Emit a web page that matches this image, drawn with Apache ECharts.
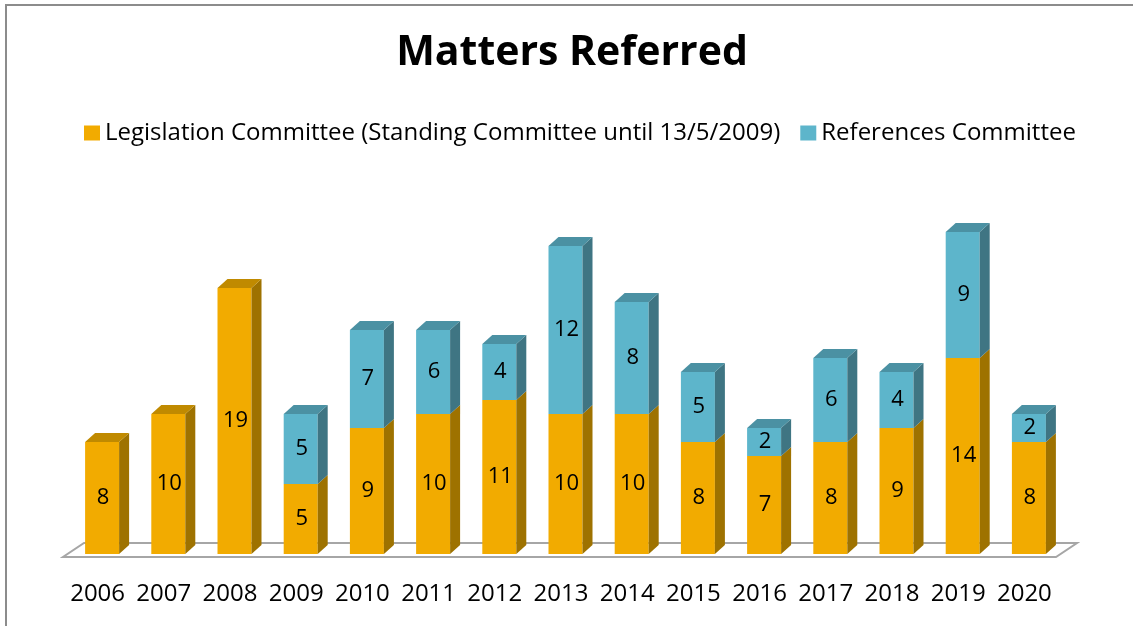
<!DOCTYPE html>
<html>
<head>
<meta charset="utf-8">
<script src="https://cdn.jsdelivr.net/npm/echarts@6/dist/echarts.min.js"></script>
<style>
  html, body { margin: 0; padding: 0; background: #fff; }
  #chart { width: 1133px; height: 626px; }
</style>
</head>
<body>
<div id="chart"></div>
<script>
const years = ['2006', '2007', '2008', '2009', '2010', '2011', '2012', '2013', '2014', '2015', '2016', '2017', '2018', '2019', '2020'];
const legislation = [8, 10, 19, 5, 9, 10, 11, 10, 10, 8, 7, 8, 9, 14, 8];
const references = [0, 0, 0, 5, 7, 6, 4, 12, 8, 5, 2, 6, 4, 9, 2];

const FONT = '"Open Sans", Lato, sans-serif';

const orangeFaces = { front: '#F2AB00', side: '#9E7200', top: '#C08A00' };
const blueFaces = { front: '#5DB5CB', side: '#3F7583', top: '#4B91A3' };

// [category, low, high, isTop]
const legisData = legislation.map((v, i) => [i, 0, v, references[i] === 0 ? 1 : 0]);
const refData = references.map((v, i) => [i, legislation[i], legislation[i] + v, 1]);

// draws a fake 3D box: front face, right side, top
function boxRenderer(faces) {
  return function (params, api) {
    const cat = api.value(0), lo = api.value(1), hi = api.value(2);
    if (hi - lo <= 0) return;
    const pb = api.coord([cat, lo]);
    const pt = api.coord([cat, hi]);
    const bw = 34, dx = 10, dy = 9;
    const x0 = pb[0] - bw / 2, x1 = x0 + bw;
    const yb = pb[1], yt = pt[1];
    const kids = [
      { type: 'rect', shape: { x: x0, y: yt, width: bw, height: yb - yt }, style: { fill: faces.front } },
      { type: 'polygon', shape: { points: [[x1, yb], [x1, yt], [x1 + dx, yt - dy], [x1 + dx, yb - dy]] }, style: { fill: faces.side } }
    ];
    if (api.value(3)) {
      kids.push({ type: 'polygon', shape: { points: [[x0, yt], [x1, yt], [x1 + dx, yt - dy], [x0 + dx, yt - dy]] }, style: { fill: faces.top } });
    }
    kids.push({
      type: 'text',
      style: {
        text: String(hi - lo), x: pb[0] + 1, y: (yb + yt) / 2,
        align: 'center', verticalAlign: 'middle',
        font: '22px ' + FONT, fill: '#000'
      }
    });
    return { type: 'group', children: kids };
  };
}

function floorRenderer(params, api) {
  const cs = params.coordSys;
  const yb = cs.y + cs.height;
  const l = cs.x - 6, r = cs.x + cs.width - 6;
  return {
    type: 'polygon',
    shape: { points: [[l, yb + 3], [r, yb + 3], [r + 21, yb - 11], [l + 21, yb - 11]] },
    style: { fill: '#fff', stroke: '#A6A6A6', lineWidth: 2 },
    z2: -1
  };
}

const chart = echarts.init(document.getElementById('chart'));
chart.setOption({
  backgroundColor: '#fff',
  animation: false,
  title: {
    text: 'Matters Referred',
    left: 567,
    textAlign: 'center',
    top: 28,
    textStyle: { fontFamily: FONT, fontWeight: 'bold', fontSize: 41, color: '#000' }
  },
  legend: {
    top: 116,
    left: 79,
    itemWidth: 16,
    itemHeight: 15,
    itemGap: 20,
    icon: 'rect',
    textStyle: { fontFamily: FONT, fontSize: 24, color: '#000' },
    data: [
      { name: 'Legislation Committee (Standing Committee until 13/5/2009)', itemStyle: { color: orangeFaces.front } },
      { name: 'References Committee', itemStyle: { color: blueFaces.front } }
    ]
  },
  grid: { left: 69, right: 71, top: 134, bottom: 72 },
  xAxis: {
    type: 'category',
    data: years,
    axisLine: { show: false },
    axisTick: { show: false },
    axisLabel: { interval: 0, margin: 28, fontFamily: FONT, fontSize: 24, color: '#000', padding: [0, 9, 0, 0] }
  },
  yAxis: {
    type: 'value',
    min: 0,
    max: 30,
    show: false,
    splitLine: { show: false }
  },
  graphic: [{
    type: 'rect',
    shape: { x: 6, y: 5, width: 1200, height: 700 },
    style: { fill: 'none', stroke: '#8C8C8C', lineWidth: 2 },
    silent: true
  }],
  series: [
    {
      type: 'custom',
      name: 'floor',
      data: [[0, 0]],
      renderItem: floorRenderer,
      silent: true,
      z: 1
    },
    {
      type: 'custom',
      name: 'Legislation Committee (Standing Committee until 13/5/2009)',
      data: legisData,
      encode: { x: 0, y: [1, 2] },
      renderItem: boxRenderer(orangeFaces),
      itemStyle: { color: orangeFaces.front },
      z: 2
    },
    {
      type: 'custom',
      name: 'References Committee',
      data: refData,
      encode: { x: 0, y: [1, 2] },
      renderItem: boxRenderer(blueFaces),
      itemStyle: { color: blueFaces.front },
      z: 3
    }
  ]
});
</script>
</body>
</html>
